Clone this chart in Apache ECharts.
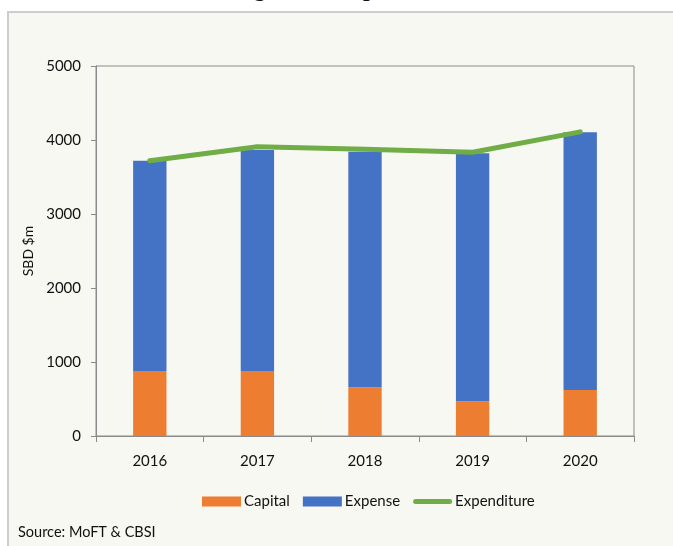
<!DOCTYPE html>
<html>
<head>
<meta charset="utf-8">
<script src="https://cdn.jsdelivr.net/npm/echarts@6/dist/echarts.min.js"></script>
<style>
  html, body { margin: 0; padding: 0; background: #fff; }
  #frame {
    position: absolute; left: 7px; top: 11px; width: 720px; height: 600px;
    background: #f8f8f2; border: 2px solid #cdcdcd; box-sizing: border-box;
  }
  #chart { position: absolute; left: 0; top: 0; width: 673px; height: 546px; }
</style>
</head>
<body>
<div id="frame"></div>
<div id="chart"></div>
<script>
  // values (SBD $m)
  const years = ['2016', '2017', '2018', '2019', '2020'];
  const capital = [880, 880, 660, 470, 620];
  const expense = [2840, 2985, 3180, 3350, 3485];
  const expenditure = [3720, 3910, 3875, 3835, 4110];
  const yTicks = [0, 1000, 2000, 3000, 4000, 5000];

  const axisGrey = '#8a8a8a';
  const labelFont = 'Lato';
  // thick rounded line used as the legend icon of the line series
  const lineIcon = 'path://M2.5,0 L36.5,0 A2.5,2.5 0 0 1 36.5,5 L2.5,5 A2.5,2.5 0 0 1 2.5,0 Z';

  const chart = echarts.init(document.getElementById('chart'));

  chart.setOption({
    backgroundColor: 'transparent',
    animation: false,
    textStyle: { fontFamily: labelFont, color: '#111' },
    graphic: [
      {
        type: 'text',
        x: 211,
        y: -10,
        style: {
          text: 'Budget and Expenditure',
          font: 'bold 24px "Liberation Serif"',
          fill: '#111',
          verticalAlign: 'middle',
        },
      },
      {
        type: 'text',
        x: 18,
        y: 532,
        style: {
          text: 'Source: MoFT & CBSI',
          font: '14.5px Lato',
          fill: '#111',
          verticalAlign: 'middle',
        },
      },
    ],
    grid: {
      show: true,
      left: 96,
      right: 39,
      top: 66,
      bottom: 110,
      borderColor: axisGrey,
      borderWidth: 1,
      backgroundColor: 'transparent',
    },
    legend: {
      left: 197,
      top: 489,
      itemWidth: 39,
      itemHeight: 10,
      itemGap: 13,
      textStyle: { fontSize: 15, fontFamily: labelFont, color: '#111', padding: [0, 0, 0, -2] },
      data: [
        { name: 'Capital', icon: 'rect' },
        { name: 'Expense', icon: 'rect' },
        { name: 'Expenditure', icon: lineIcon },
      ],
    },
    xAxis: {
      type: 'category',
      data: years,
      axisLine: { lineStyle: { color: axisGrey, width: 1 } },
      axisTick: { show: true, length: 6, lineStyle: { color: axisGrey } },
      axisLabel: { fontSize: 15, color: '#111', margin: 18 },
    },
    yAxis: {
      type: 'value',
      min: yTicks[0],
      max: yTicks[yTicks.length - 1],
      interval: 1000,
      name: 'SBD $m',
      nameLocation: 'middle',
      nameRotate: 90,
      nameGap: 53,
      nameTextStyle: { fontSize: 14, color: '#111' },
      axisLine: { show: true, lineStyle: { color: axisGrey, width: 1 } },
      axisTick: { show: true, length: 5, lineStyle: { color: axisGrey } },
      axisLabel: { fontSize: 15, color: '#111', margin: 15, formatter: (v) => String(v) },
      splitLine: { show: false },
    },
    series: [
      {
        name: 'Capital',
        type: 'bar',
        stack: 'total',
        barWidth: '31%',
        itemStyle: { color: '#ed7d31' },
        data: capital,
      },
      {
        name: 'Expense',
        type: 'bar',
        stack: 'total',
        itemStyle: { color: '#4472c4' },
        data: expense,
      },
      {
        name: 'Expenditure',
        type: 'line',
        symbol: 'none',
        z: 5,
        itemStyle: { color: '#70ad47' },
        lineStyle: { color: '#70ad47', width: 5, cap: 'round' },
        data: expenditure,
      },
    ],
  });
</script>
</body>
</html>
